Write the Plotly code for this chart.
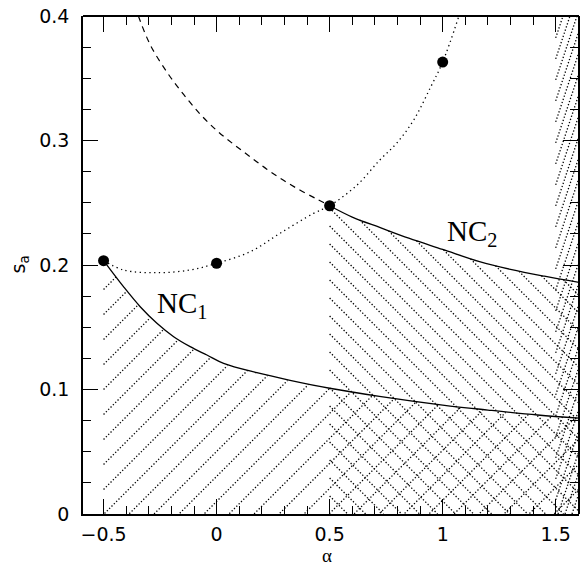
import numpy as np
import plotly.graph_objects as go

# ---------------- data ----------------
MARK_X = [-0.5, 0.0, 0.5, 1.0]
MARK_Y = [0.2035, 0.2014, 0.2476, 0.363]

DOT_X = [-0.5, -0.412, -0.264, -0.117, 0.0, 0.149, 0.281, 0.429, 0.5, 0.62, 0.72, 0.797, 0.872, 0.947, 1.0, 1.072]
DOT_Y = [0.2035, 0.196, 0.1938, 0.196, 0.2014, 0.2107, 0.2255, 0.2415, 0.2476, 0.264, 0.284, 0.298, 0.3165, 0.343, 0.363, 0.4]

DASH_X = [-0.346, -0.294, -0.220, -0.146, -0.072, 0.001, 0.075, 0.148, 0.222, 0.296, 0.370, 0.443, 0.5]
DASH_Y = [0.4, 0.377, 0.355, 0.337, 0.321, 0.308, 0.297, 0.287, 0.277, 0.268, 0.260, 0.253, 0.2476]

NC1_X = [-0.5, -0.412, -0.338, -0.264, -0.19, -0.117, -0.043, 0.031, 0.178, 0.325, 0.5, 0.72, 1.0, 1.2, 1.42, 1.603]
NC1_Y = [0.2035, 0.1826, 0.1665, 0.1532, 0.1424, 0.1344, 0.1277, 0.121, 0.1135, 0.1074, 0.101, 0.0945, 0.0875, 0.0835, 0.0795, 0.077]

NC2_X = [0.5, 0.6, 0.724, 0.85, 1.0, 1.163, 1.3, 1.45, 1.603]
NC2_Y = [0.2476, 0.2385, 0.230, 0.2215, 0.2125, 0.2027, 0.1965, 0.191, 0.186]

STRIP_X = [1.5, 1.603]

X_TICKS = [-0.5, 0, 0.5, 1, 1.5]
X_LABELS = ["\u22120.5", "0", "0.5", "1", "1.5"]
Y_TICKS = [0, 0.1, 0.2, 0.3, 0.4]
Y_LABELS = ["0", "0.1", "0.2", "0.3", "0.4"]

# ---------------- layout geometry ----------------
W, H = 582, 567
ML, MR, MT, MB = 83, 3, 16, 53
X_RANGE = [-0.591, 1.603]
Y_RANGE = [0.0, 0.4]
PX_X = (W - ML - MR) / (X_RANGE[1] - X_RANGE[0])
PX_Y = (H - MT - MB) / (Y_RANGE[1] - Y_RANGE[0])


def hatch(x0, x1, top_x, top_y, slope_px, spacing_px, n=500):
    """Dotted hatch lines (slope given in pixel space) clipped to
    x0<=x<=x1, 0<=y<=top(x)."""
    m = slope_px * PX_X / PX_Y
    dy = spacing_px * abs(slope_px) / PX_Y
    span = m * (x1 - x0)
    cmin = min(0.0, -span) - dy
    cmax = max(Y_RANGE[1], Y_RANGE[1] - span) + dy
    xs = np.linspace(x0, x1, n)
    top = np.interp(xs, top_x, top_y)
    outx, outy = [], []
    c = cmin
    while c <= cmax:
        ys = c + m * (xs - x0)
        mask = (ys >= 0) & (ys <= top)
        if mask.any():
            yy = np.where(mask, ys, np.nan)
            outx.extend(xs.tolist() + [np.nan])
            outy.extend(yy.tolist() + [np.nan])
        c += dy
    return outx, outy


fig = go.Figure()

hatch_line = dict(color="black", width=1.3, dash="1.3px,2px")

hx, hy = hatch(NC1_X[0], NC1_X[-1], NC1_X, NC1_Y, 1.0, 25)
fig.add_trace(go.Scatter(x=hx, y=hy, mode="lines", line=hatch_line, connectgaps=False, hoverinfo="skip"))

hx, hy = hatch(NC2_X[0], NC2_X[-1], NC2_X, NC2_Y, -1.0, 18)
fig.add_trace(go.Scatter(x=hx, y=hy, mode="lines", line=hatch_line, connectgaps=False, hoverinfo="skip"))

hx, hy = hatch(STRIP_X[0], STRIP_X[1], STRIP_X, [Y_RANGE[1], Y_RANGE[1]], 3.0, 7)
fig.add_trace(go.Scatter(x=hx, y=hy, mode="lines", line=hatch_line, connectgaps=False, hoverinfo="skip"))

# curves
fig.add_trace(go.Scatter(x=DOT_X, y=DOT_Y, mode="lines", line_shape="spline",
                         line=dict(color="black", width=1.3, dash="1.3px,3.5px")))
fig.add_trace(go.Scatter(x=DASH_X, y=DASH_Y, mode="lines", line_shape="spline",
                         line=dict(color="black", width=1.2, dash="6px,5px")))
fig.add_trace(go.Scatter(x=NC1_X, y=NC1_Y, mode="lines", line_shape="spline",
                         line=dict(color="black", width=1.3)))
fig.add_trace(go.Scatter(x=NC2_X, y=NC2_Y, mode="lines", line_shape="spline",
                         line=dict(color="black", width=1.3)))
fig.add_trace(go.Scatter(x=MARK_X, y=MARK_Y, mode="markers",
                         marker=dict(color="black", size=11)))

# invisible traces so the mirrored tick axes (top / right) are drawn
for xa, ya in (("x2", "y"), ("x3", "y"), ("x", "y2"), ("x", "y3")):
    fig.add_trace(go.Scatter(x=[None], y=[None], xaxis=xa, yaxis=ya, hoverinfo="skip"))

base = dict(showgrid=False, zeroline=False, automargin=False, tickcolor="black")
font_ticks = dict(family="DejaVu Sans", size=19, color="black")


def mirror_axis(rng, over, side, dtick, length):
    return dict(range=rng, overlaying=over, side=side, anchor="free", position=1.0,
                tickmode="linear", tick0=0, dtick=dtick, ticks="outside",
                ticklen=length, tickwidth=1.2, showticklabels=False,
                showline=True, linecolor="black", linewidth=1.6, **base)


fig.update_layout(
    width=W, height=H,
    margin=dict(l=ML, r=MR, t=MT, b=MB),
    paper_bgcolor="white", plot_bgcolor="white",
    showlegend=False,
    xaxis=dict(
        range=X_RANGE, tickmode="array", tickvals=X_TICKS, ticktext=X_LABELS,
        ticks="inside", ticklen=15, tickwidth=1.2,
        minor=dict(tickmode="linear", tick0=0, dtick=0.1, ticks="inside",
                   ticklen=8, tickwidth=1.2, tickcolor="black"),
        showline=True, linecolor="black", linewidth=1.6,
        ticklabelstandoff=2, tickfont=font_ticks, **base,
    ),
    yaxis=dict(
        range=Y_RANGE, tickmode="array", tickvals=Y_TICKS, ticktext=Y_LABELS,
        ticks="inside", ticklen=15, tickwidth=1.2,
        minor=dict(tickmode="linear", tick0=0, dtick=0.025, ticks="inside",
                   ticklen=8, tickwidth=1.2, tickcolor="black"),
        showline=True, linecolor="black", linewidth=1.6,
        ticklabelstandoff=8, tickfont=font_ticks, **base,
    ),
    # top edge: 'bottom'-side axes placed at the top so outside ticks point down
    xaxis2=mirror_axis(X_RANGE, "x", "bottom", 0.5, 15),
    xaxis3=mirror_axis(X_RANGE, "x", "bottom", 0.1, 8),
    # right edge: 'left'-side axes placed at the right so outside ticks point left
    yaxis2=mirror_axis(Y_RANGE, "y", "left", 0.1, 15),
    yaxis3=mirror_axis(Y_RANGE, "y", "left", 0.025, 8),
    annotations=[
        dict(x=-0.271, y=0.1675, xref="x", yref="y", text="NC<sub>1</sub>", showarrow=False,
             xanchor="left", yanchor="middle",
             font=dict(family="Liberation Serif", size=29, color="black")),
        dict(x=1.011, y=0.2257, xref="x", yref="y", text="NC<sub>2</sub>", showarrow=False,
             xanchor="left", yanchor="middle",
             font=dict(family="Liberation Serif", size=29, color="black")),
        dict(x=0.492, y=-0.1055, xref="paper", yref="paper", text="\u03b1", showarrow=False,
             xanchor="center", yanchor="bottom", borderpad=0,
             font=dict(family="Liberation Serif", size=19, color="black")),
        dict(x=-0.13, y=0.5, xref="paper", yref="paper", text="s<sub>a</sub>", showarrow=False,
             xanchor="center", yanchor="middle", textangle=-90,
             font=dict(family="DejaVu Sans", size=19, color="black")),
    ],
)

fig.write_html("out.html")
